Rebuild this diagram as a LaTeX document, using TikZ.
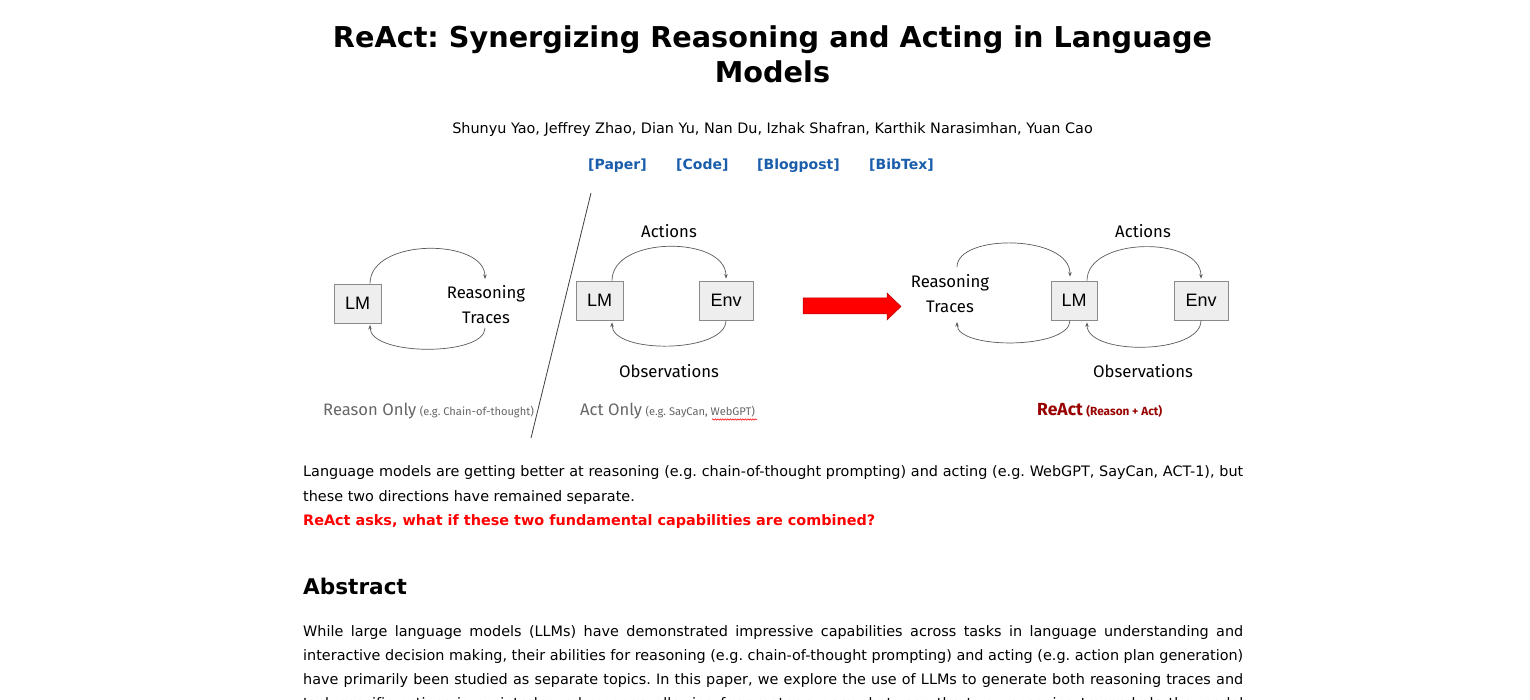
\documentclass[tikz,border=0pt]{standalone}
\usepackage{fontspec}
\setmainfont{DejaVu Sans}
\newfontfamily\figfont{Fira Sans}
\newfontfamily\boxfont{Liberation Sans}
\usetikzlibrary{arrows.meta,decorations.pathmorphing}
\frenchspacing
\definecolor{linkblue}{HTML}{1A5DAB}
\definecolor{darkred}{HTML}{990000}
\definecolor{labelgray}{HTML}{666666}
\definecolor{boxfill}{HTML}{EEEEEE}
\definecolor{boxline}{HTML}{8A8A8A}
\definecolor{arcgray}{HTML}{5A5A5A}
\tikzset{
  lmbox/.style={draw=boxline, fill=boxfill, line width=0.8pt, minimum height=39pt, inner sep=0pt,
    font=\boxfont\fontsize{18}{18}\selectfont},
  figtext/.style={font=\figfont\fontsize{16.7}{25}\selectfont, align=center, inner sep=0pt},
  arc/.style={draw=arcgray, line width=0.7pt, -{Stealth[length=4.5pt,width=3.5pt]}},
  body/.style={anchor=base west, inner sep=0pt, font=\fontsize{14.4}{17}\selectfont},
  linkstyle/.style={anchor=base west, inner sep=0pt, text=linkblue, font=\bfseries\fontsize{14}{17}\selectfont},
}
\begin{document}
\begin{tikzpicture}[x=1pt,y=-1pt]
\useasboundingbox (0,0) rectangle (1530,700);
\fill[white] (0,0) rectangle (1530,700);

% header
\node[anchor=base, inner sep=0pt, font=\bfseries\fontsize{28.7}{32}\selectfont] (title1) at (772.5,47.5) {ReAct: Synergizing Reasoning and Acting in Language};
\node[anchor=base, inner sep=0pt, font=\bfseries\fontsize{28.7}{32}\selectfont] (title2) at (772.5,83) {Models};
\node[anchor=base, inner sep=0pt, font=\fontsize{14.4}{17}\selectfont] (authors) at (772.5,133.5) {Shunyu Yao, Jeffrey Zhao, Dian Yu, Nan Du, Izhak Shafran, Karthik Narasimhan, Yuan Cao};
\node[linkstyle] (paper) at (588,170) {[Paper]};
\node[linkstyle] (code) at (676,170) {[Code]};
\node[linkstyle] (blog) at (757,170) {[Blogpost]};
\node[linkstyle] (bib) at (869,170) {[BibTex]};

% divider
\draw[draw=black!75, line width=0.8pt] (591,193) -- (531,438);

% Reason only
\node[lmbox, minimum width=47pt] (lm1) at (357.5,303.5) {LM};
\node[figtext] (rt1) at (486,304.5) {Reasoning\\Traces};
\coordinate (rt1top) at (485,279);
\coordinate (rt1bot) at (485,328);
\draw[arc] ([xshift=12.5pt]lm1.north) .. controls +(0,-46) and +(0,-41) .. (rt1top);
\draw[arc] (rt1bot) .. controls +(0,28.5) and +(0,31.5) .. ([xshift=12.5pt,yshift=-1.5pt]lm1.south);
\node[anchor=base west, inner sep=0pt, text=labelgray, font=\figfont] (lab1) at (323,415)
  {{\fontsize{16.6}{16}\selectfont Reason Only}\hspace{3.5pt}{\fontsize{11.1}{12}\selectfont (e.g. Chain-of-thought)}};

% Act only
\node[lmbox, minimum width=47pt] (lm2) at (599.5,300.5) {LM};
\node[lmbox, minimum width=54pt] (env2) at (726,300.5) {Env};
\draw[arc] ([xshift=12.5pt]lm2.north) .. controls +(0,-45) and +(0,-43) .. ([yshift=2pt]env2.north);
\draw[arc] (env2.south) .. controls +(0,33) and +(0,32) .. ([xshift=12.5pt,yshift=-2pt]lm2.south);
\node[figtext] (act2) at (669,231) {Actions};
\node[figtext] (obs2) at (669,371) {Observations};
\node[anchor=base west, inner sep=0pt, text=labelgray, font=\figfont] (lab2) at (580,415)
  {{\fontsize{16.6}{16}\selectfont Act Only}\hspace{3.5pt}{\fontsize{11.1}{12}\selectfont (e.g. SayCan, WebGPT)}};
\draw[red, line width=0.5pt, decorate, decoration={snake, amplitude=0.7pt, segment length=2.5pt}] (712,419.5) -- (757,419.5);

% big arrow
\draw[fill=red, draw=red!70!black, line width=0.5pt] (803,298) -- (887,298) -- (887,293) -- (901,306.5) -- (887,320) -- (887,314) -- (803,314) -- cycle;

% ReAct
\node[figtext] (rt3) at (950,293.5) {Reasoning\\Traces};
\node[lmbox, minimum width=46pt] (lm3) at (1074,300.5) {LM};
\node[lmbox, minimum width=54pt] (env3) at (1201,300.5) {Env};
\coordinate (rt3top) at (957,267);
\coordinate (rt3bot) at (957,322);
\draw[arc] (rt3top) .. controls +(0,-33.5) and +(0,-42.5) .. ([xshift=-4pt,yshift=4pt]lm3.north);
\draw[arc] ([xshift=-4pt]lm3.south) .. controls +(0,29) and +(0,28) .. (rt3bot);
\draw[arc] ([xshift=13pt]lm3.north) .. controls +(0,-44) and +(0,-43) .. ([yshift=2pt]env3.north);
\draw[arc] (env3.south) .. controls +(0,34.5) and +(0,33.5) .. ([xshift=13pt,yshift=-2pt]lm3.south);
\node[figtext] (act3) at (1143,231) {Actions};
\node[figtext] (obs3) at (1143,371) {Observations};
\node[anchor=base west, inner sep=0pt, text=darkred, font=\figfont\bfseries] (lab3) at (1037,415.5)
  {{\fontsize{17.5}{16}\selectfont ReAct}\hspace{3.5pt}{\fontsize{11.8}{12}\selectfont (Reason + Act)}};

% body text
\node[body] (p1a) at (303,476) {\makebox[940pt][s]{Language models are getting better at reasoning (e.g. chain-of-thought prompting) and acting (e.g. WebGPT, SayCan, ACT-1), but}};
\node[body] (p1b) at (303,501) {these two directions have remained separate.};
\node[body, text=red, font=\bfseries\fontsize{14.4}{17}\selectfont] (p1c) at (303,525) {ReAct asks, what if these two fundamental capabilities are combined?};
\node[body, font=\bfseries\fontsize{21.6}{26}\selectfont] (abs) at (303,594.5) {Abstract};
\node[body] (a1) at (303,636) {\makebox[940pt][s]{While large language models (LLMs) have demonstrated impressive capabilities across tasks in language understanding and}};
\node[body] (a2) at (303,660) {\makebox[940pt][s]{interactive decision making, their abilities for reasoning (e.g. chain-of-thought prompting) and acting (e.g. action plan generation)}};
\node[body] (a3) at (303,684) {\makebox[940pt][s]{have primarily been studied as separate topics. In this paper, we explore the use of LLMs to generate both reasoning traces and}};
\node[body] (a4) at (303,708) {\makebox[940pt][s]{task-specific actions in an interleaved manner, allowing for greater synergy between the two: reasoning traces help the model}};
\end{tikzpicture}
\end{document}
